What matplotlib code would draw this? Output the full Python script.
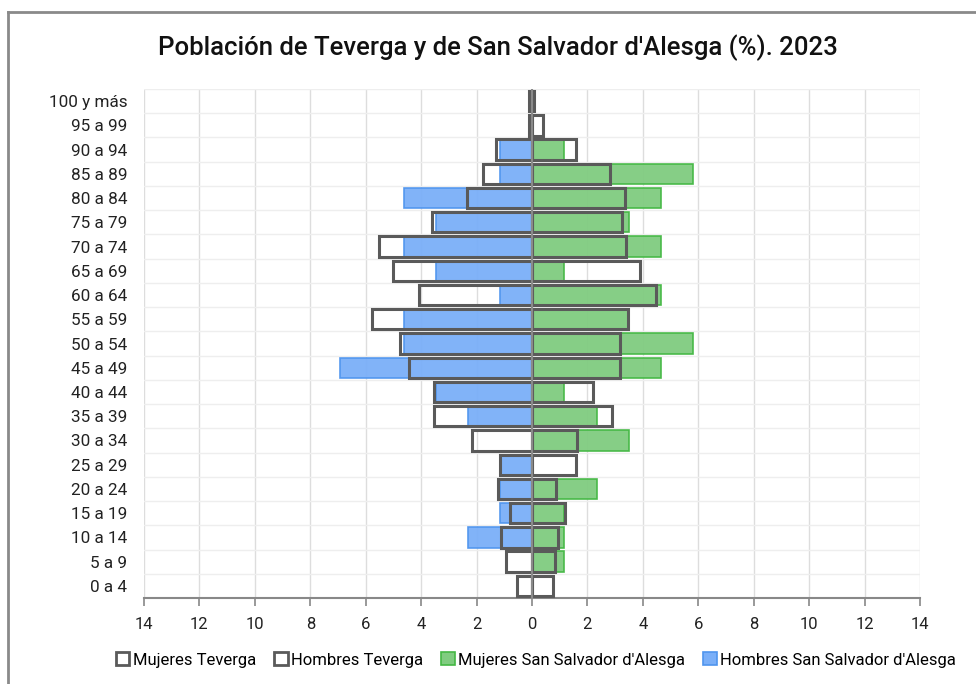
import matplotlib
matplotlib.use("Agg")
import matplotlib.pyplot as plt
from matplotlib.patches import Patch
from matplotlib.lines import Line2D
import numpy as np

plt.rcParams['font.family'] = ['Roboto', 'DejaVu Sans']

categories = ["0 a 4", "5 a 9", "10 a 14", "15 a 19", "20 a 24", "25 a 29", "30 a 34",
              "35 a 39", "40 a 44", "45 a 49", "50 a 54", "55 a 59", "60 a 64", "65 a 69",
              "70 a 74", "75 a 79", "80 a 84", "85 a 89", "90 a 94", "95 a 99", "100 y más"]

# Teverga (%)
hombres_teverga = [0.54, 0.93, 1.11, 0.81, 1.24, 1.17, 2.18, 3.55, 3.55, 4.45, 4.75, 5.76,
                   4.06, 5.00, 5.52, 3.61, 2.35, 1.78, 1.30, 0.10, 0.11]
mujeres_teverga = [0.76, 0.82, 0.95, 1.19, 0.88, 1.58, 1.63, 2.89, 2.20, 3.19, 3.19, 3.47,
                   4.47, 3.89, 3.38, 3.26, 3.34, 2.82, 1.58, 0.40, 0.07]
# San Salvador d'Alesga (%)
hombres_ssa = [0, 0, 2.31, 1.16, 1.16, 1.16, 0, 2.31, 3.47, 6.94, 4.63, 4.63,
               1.16, 3.47, 4.63, 3.47, 4.63, 1.16, 1.16, 0, 0]
mujeres_ssa = [0, 1.16, 1.16, 1.16, 2.33, 0, 3.49, 2.33, 1.16, 4.65, 5.81, 3.49,
               4.65, 1.16, 4.65, 3.49, 4.65, 5.81, 1.16, 0, 0]

xticks = [-14, -12, -10, -8, -6, -4, -2, 0, 2, 4, 6, 8, 10, 12, 14]

W, H = 976, 684
fig = plt.figure(figsize=(W / 100, H / 100), dpi=100)
ax = fig.add_axes([144 / W, 1 - 598 / H, (920 - 144) / W, (598 - 89) / H])

y = np.arange(len(categories))
h = 0.84
blue_fill = "#7aaff8"
blue_edge = "#4f95ee"
green_fill = "#80cc80"
green_edge = "#44b844"
outline = "#5a5a5a"

ax.barh(y, -np.array(hombres_ssa), height=h, color=blue_fill, edgecolor=blue_edge,
        linewidth=1.2, alpha=0.95, zorder=2)
ax.barh(y, mujeres_ssa, height=h, color=green_fill, edgecolor=green_edge,
        linewidth=1.2, alpha=0.95, zorder=2)
ax.barh(y, -np.array(hombres_teverga), height=h, fill=False, edgecolor=outline,
        linewidth=2.2, zorder=3)
ax.barh(y, mujeres_teverga, height=h, fill=False, edgecolor=outline,
        linewidth=2.2, zorder=3)
ax.axvline(0, color="#8a8a8a", lw=1.5, zorder=4)

ax.set_xlim(-14, 14)
ax.set_ylim(-0.5, len(categories) - 0.5)
ax.set_xticks(xticks)
ax.set_xticklabels([str(abs(t)) for t in xticks], fontsize=12, color="#222222")
ax.set_yticks(y)
ax.set_yticklabels(categories, fontsize=12.3, color="#222222")
ax.tick_params(axis='y', length=0, pad=12)
ax.tick_params(axis='x', length=6, width=1.2, color="#888888", pad=8, direction='out')

for t in xticks:
    ax.axvline(t, color="#dddddd", lw=1.0, zorder=0)
for b in np.arange(-0.5, len(categories), 1.0):
    ax.axhline(b, color="#eeeeee", lw=1.0, zorder=0)

for s in ["top", "right", "left"]:
    ax.spines[s].set_visible(False)
ax.spines["bottom"].set_color("#888888")
ax.spines["bottom"].set_linewidth(1.5)

fig.text(498 / W, 1 - 48 / H, "Población de Teverga y de San Salvador d'Alesga (%). 2023",
         ha="center", va="center", fontsize=18.5, fontweight="medium", color="#111111")

# frame
fig.add_artist(Line2D([8 / W, 8 / W], [0, 1 - 12 / H], transform=fig.transFigure,
                      color="#8a8a8a", lw=2))
fig.add_artist(Line2D([8 / W, 1], [1 - 12 / H, 1 - 12 / H], transform=fig.transFigure,
                      color="#8a8a8a", lw=2))

handles = [
    Patch(facecolor="white", edgecolor=outline, linewidth=2),
    Patch(facecolor="white", edgecolor=outline, linewidth=2),
    Patch(facecolor=green_fill, edgecolor=green_edge, linewidth=1.2),
    Patch(facecolor=blue_fill, edgecolor=blue_edge, linewidth=1.2),
]
labels = ["Mujeres Teverga", "Hombres Teverga", "Mujeres San Salvador d'Alesga",
          "Hombres San Salvador d'Alesga"]
fig.legend(handles, labels, loc="center", bbox_to_anchor=(536 / W, 1 - 660 / H), ncol=4,
           frameon=False, fontsize=12, handlelength=0.8, handleheight=0.8,
           handletextpad=0.2, columnspacing=1.1)

fig.savefig("out.png", dpi=100, facecolor="white")
